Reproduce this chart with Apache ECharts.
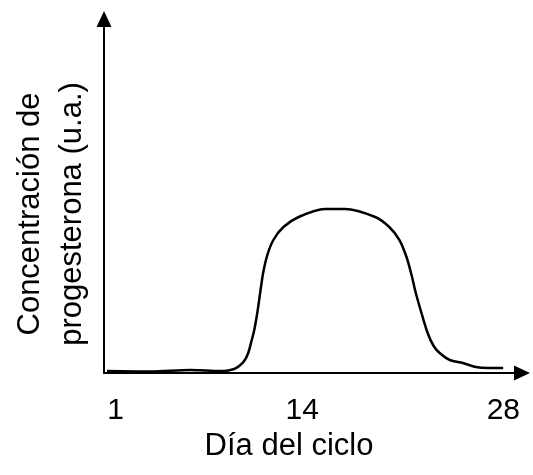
<!DOCTYPE html>
<html>
<head>
<meta charset="utf-8">
<script src="https://cdn.jsdelivr.net/npm/echarts@6/dist/echarts.min.js"></script>
<style>html,body{margin:0;padding:0;background:#fff;}#c{width:533px;height:475px;}</style>
</head>
<body>
<div id="c"></div>
<script>
var dayValues = [0.41, 3.43, 6.24, 7.29, 8.55, 9.26, 9.61, 9.96, 10.24, 10.45, 10.66, 10.87, 11.08, 11.29, 11.57, 11.99, 12.69, 13.75, 15.57, 16.98, 19.08, 20.06, 20.77, 21.26, 21.61, 21.89, 22.24, 22.73, 23.15, 23.57, 24.27, 25.19, 26.09, 26.94, 27.99];
var progesterone = [0.56, 0.42, 0.85, 0.7, 0.56, 1.13, 1.98, 3.39, 5.65, 8.76, 12.15, 16.95, 22.88, 28.53, 33.33, 37.57, 41.24, 44.07, 46.33, 46.33, 44.07, 41.24, 37.57, 32.77, 27.68, 22.88, 17.8, 11.3, 7.63, 5.65, 3.67, 2.82, 1.69, 1.41, 1.41];
var xTickValues = [1, 14, 28];
var xTitle = 'Día del ciclo';
var yTitleLines = ['Concentración de', 'progesterona (u.a.)'];

var FONT = 'Liberation Sans, Arial, sans-serif';
var chart = echarts.init(document.getElementById('c'));
var seriesData = dayValues.map(function (d, i) { return [d, progesterone[i]]; });
chart.setOption({
  animation: false,
  backgroundColor: '#fff',
  grid: { left: 104, right: 11, top: 19, bottom: 102 },
  xAxis: {
    type: 'value', min: 0.2, max: 29.3,
    axisLine: { show: true, lineStyle: { color: '#000', width: 2 }, symbol: ['none', 'triangle'], symbolSize: [15, 16] },
    axisTick: { show: false },
    splitLine: { show: false },
    axisLabel: { customValues: xTickValues, fontSize: 30, color: '#000', fontFamily: FONT, margin: 23 }
  },
  yAxis: {
    type: 'value', min: 0, max: 100,
    axisLine: { show: true, lineStyle: { color: '#000', width: 2 }, symbol: ['none', 'triangle'], symbolSize: [15, 16] },
    axisTick: { show: false },
    splitLine: { show: false },
    axisLabel: { show: false }
  },
  graphic: [
    { type: 'text', x: 289, y: 446, style: { text: xTitle, font: '31px ' + FONT, fill: '#000', textAlign: 'center', textVerticalAlign: 'middle' } },
    { type: 'text', x: 51, y: 214, rotation: Math.PI / 2, style: { text: yTitleLines.join('\n'), font: '31px ' + FONT, lineHeight: 42, fill: '#000', textAlign: 'center', textVerticalAlign: 'middle' } }
  ],
  series: [{
    type: 'line', data: seriesData, showSymbol: false, smooth: 0.3,
    lineStyle: { color: '#000', width: 2.5 }
  }]
});
</script>
</body>
</html>
